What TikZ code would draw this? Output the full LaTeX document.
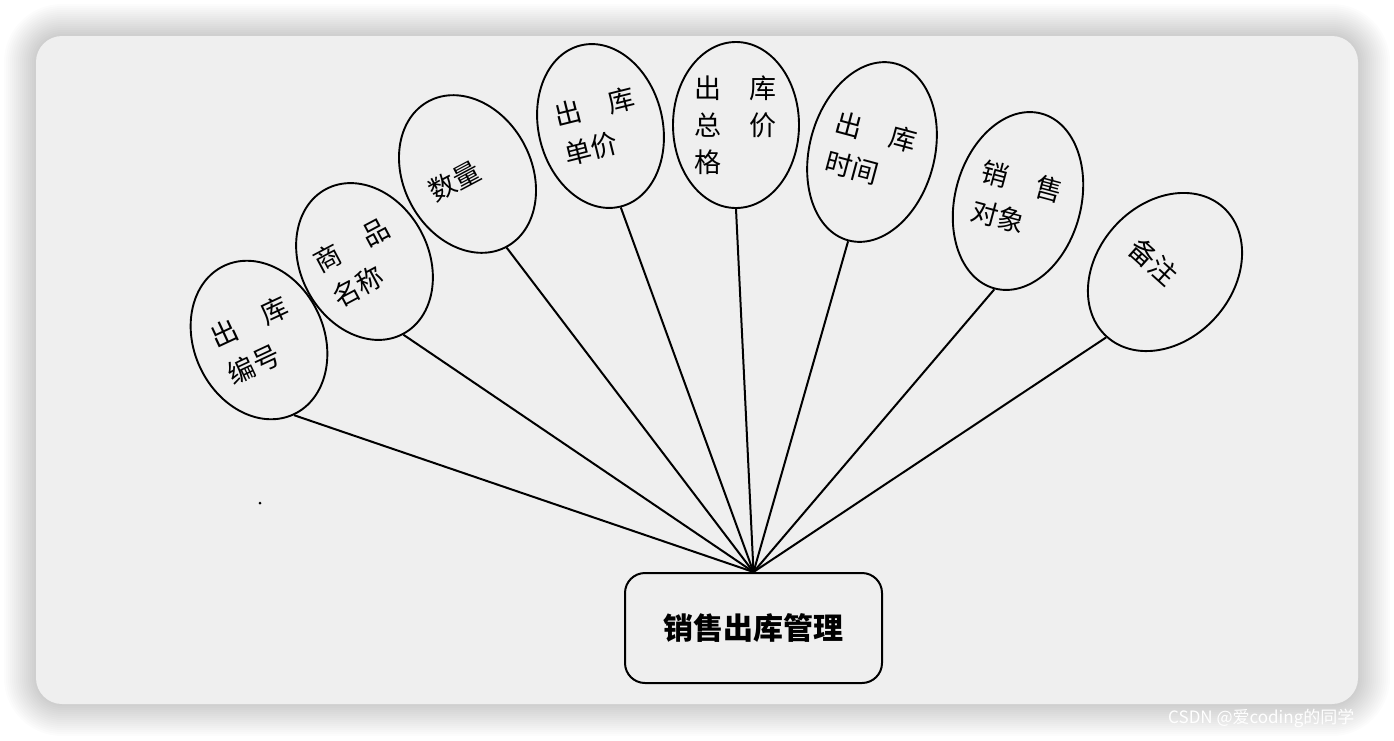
\documentclass[tikz,border=0pt]{standalone}
\usepackage{fontspec}
\setmainfont{Noto Sans CJK SC}
\usetikzlibrary{shapes.geometric}
\definecolor{panel}{HTML}{EFEFEF}
\begin{document}
\begin{tikzpicture}[x=1pt,y=-1pt,
  attr/.style={draw=black, line width=1.9pt, ellipse, inner sep=0pt},
  lbl/.style={inner sep=0pt, text width=84pt, align=left, font=\fontsize{27}{40}\selectfont},
  conn/.style={draw=black, line width=2pt},
  mainbox/.style={draw=black, line width=2pt, rounded corners=20pt, minimum width=257pt, minimum height=110pt, inner sep=0pt, font=\bfseries\fontsize{30}{36}\selectfont}]
\useasboundingbox (0,0) rectangle (1394,740);
\fill[white] (0,0) rectangle (1394,740);
% shadow
\foreach \i in {16,15,...,1} {
  \pgfmathsetmacro\rr{26+2*\i}
  \fill[black, opacity=0.012, rounded corners=\rr pt] ({36-2*\i},{36-2*\i}) rectangle ({1358+2*\i},{704+2*\i});
}
% panel
\fill[panel, rounded corners=26pt] (36,36) rectangle (1358,704);

% attribute ellipses
\node[attr, minimum width=130pt, minimum height=164pt, rotate=25] (e1) at (259,340) {};
\node[attr, minimum width=128pt, minimum height=164pt, rotate=28] (e2) at (364.5,261.5) {};
\node[attr, minimum width=128pt, minimum height=165pt, rotate=28] (e3) at (467.5,174) {};
\node[attr, minimum width=124pt, minimum height=166pt, rotate=14] (e4) at (600.5,126) {};
\node[attr, minimum width=126pt, minimum height=166pt] (e5) at (736,125) {};
\node[attr, minimum width=125pt, minimum height=183pt, rotate=-15] (e6) at (872,152) {};
\node[attr, minimum width=126pt, minimum height=181pt, rotate=-15] (e7) at (1018,201) {};
\node[attr, minimum width=136pt, minimum height=174pt, rotate=-42] (e8) at (1165,272) {};

% labels
\node[lbl, rotate=25] (t1) at (259,340) {\mbox{出\hspace{28pt}库}\\编号};
\node[lbl, rotate=28] (t2) at (362,262) {\mbox{商\hspace{28pt}品}\\名称};
\node[lbl, rotate=28] (t3) at (467.5,174) {数量};
\node[lbl, rotate=14] (t4) at (600.5,126) {\mbox{出\hspace{28pt}库}\\单价};
\node[lbl, font=\fontsize{27}{37}\selectfont] (t5) at (736,125) {\mbox{出\hspace{28pt}库}\\\mbox{总\hspace{28pt}价}\\格};
\node[lbl, rotate=-15] (t6) at (872,152) {\mbox{出\hspace{28pt}库}\\时间};
\node[lbl, rotate=-15] (t7) at (1018,201) {\mbox{销\hspace{28pt}售}\\对象};
\node[lbl, rotate=-42] (t8) at (1165,272) {备注};

% main entity
\node[mainbox] (m) at (753.5,628) {销售出库管理};

% connectors
\foreach \e in {e1,e2,e3,e4,e5,e6,e7,e8}
  \draw[conn] (\e.south) -- (m.north);

% stray dot
\fill[black] (260,503) circle (1.5);

% watermark
\node[anchor=west, inner sep=0pt, text=white, font=\fontsize{17}{17}\selectfont] (wm) at (1168,718) {CSDN @爱coding的同学};
\end{tikzpicture}
\end{document}
